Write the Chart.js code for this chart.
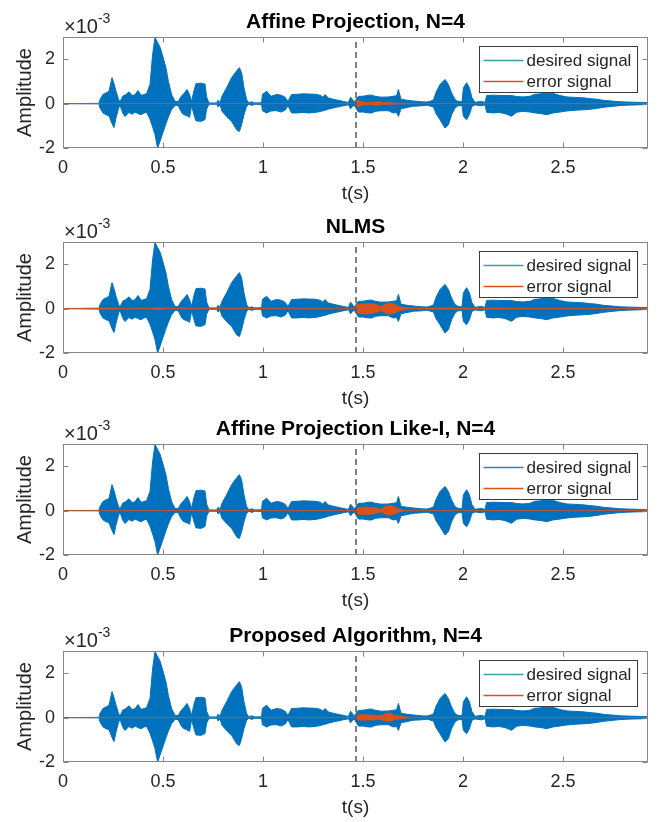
<!DOCTYPE html>
<html><head><meta charset="utf-8">
<script src="https://cdn.jsdelivr.net/npm/chart.js@4.4.0/dist/chart.umd.min.js"></script>
<style>
html,body{margin:0;padding:0;background:#fff;}
#wrap{position:relative;width:659px;height:822px;overflow:hidden;}
canvas{position:absolute;left:0;}
</style></head><body>
<div id="wrap">
<canvas id="c0" width="659" height="205" style="top:0px"></canvas>
<canvas id="c1" width="659" height="205" style="top:205px"></canvas>
<canvas id="c2" width="659" height="205" style="top:407px"></canvas>
<canvas id="c3" width="659" height="205" style="top:614px"></canvas>
</div>
<script>
// time (s) of envelope points of the desired signal
const tDesired = [0,0.18,0.185,0.2,0.215,0.23,0.245,0.255,0.265,0.278,
 0.285,0.3,0.31,0.33,0.345,0.36,0.375,0.39,0.405,0.418,
 0.435,0.448,0.46,0.473,0.485,0.5,0.515,0.527,0.543,0.56,
 0.575,0.593,0.605,0.62,0.633,0.643,0.655,0.665,0.69,0.71,
 0.718,0.73,0.77,0.775,0.785,0.795,0.818,0.843,0.868,0.882,
 0.893,0.905,0.918,0.93,0.943,0.96,0.993,0.997,1.018,1.04,
 1.068,1.09,1.11,1.125,1.143,1.17,1.2,1.23,1.26,1.285,
 1.3,1.31,1.327,1.35,1.38,1.41,1.427,1.438,1.447,1.455,
 1.465,1.477,1.5,1.527,1.545,1.56,1.59,1.627,1.65,1.668,
 1.677,1.69,1.72,1.75,1.793,1.82,1.852,1.865,1.885,1.91,
 1.927,1.943,1.96,1.975,1.995,2.002,2.018,2.032,2.045,2.06,
 2.093,2.11,2.118,2.15,2.18,2.21,2.243,2.268,2.3,2.335,
 2.36,2.39,2.418,2.45,2.485,2.52,2.56,2.6,2.64,2.668,
 2.7,2.74,2.785,2.82,2.86,2.9,2.925];
// desired signal envelope (x10^-3)
const desiredUpper = [0,0.01,0.18,0.41,0.48,0.55,1.17,0.9,0.56,0.18,
 0.08,0.35,0.38,0.53,0.36,0.4,0.59,0.38,0.4,0.45,
 0.86,2.2,2.98,2.75,2.55,2.1,1.6,1.0,0.41,0.1,
 0.08,0.35,0.45,0.64,0.4,0.1,0.6,0.9,0.92,0.88,
 0.3,0.03,0.03,0.15,0.05,0.33,0.71,1.17,1.47,1.62,
 1.39,0.71,0.18,0.03,0.08,0.03,0.04,0.41,0.56,0.33,
 0.41,0.38,0.29,0.1,0.41,0.42,0.44,0.43,0.42,0.38,
 0.29,0.41,0.25,0.2,0.14,0.08,0.05,0.29,0.2,0.05,
 0.18,0.33,0.33,0.38,0.38,0.33,0.29,0.3,0.33,0.35,
 0.64,0.2,0.15,0.12,0.08,0.07,0.15,0.5,0.86,1.09,
 0.86,0.48,0.18,0.1,0.08,0.71,0.94,0.71,0.26,0.06,
 0.1,0.05,0.36,0.38,0.37,0.36,0.36,0.32,0.3,0.33,
 0.42,0.44,0.48,0.46,0.36,0.3,0.28,0.26,0.22,0.2,
 0.15,0.12,0.08,0.07,0.06,0.05,0.04];
const desiredLower = [0,-0.01,-0.2,-0.42,-0.5,-0.55,-0.9,-1.08,-0.65,-0.2,
 -0.08,-0.45,-0.58,-0.4,-0.48,-0.38,-0.45,-0.5,-0.42,-0.4,
 -0.7,-1.05,-1.4,-2.0,-1.7,-1.3,-0.9,-0.6,-0.27,-0.08,
 -0.08,-0.4,-0.5,-0.55,-0.62,-0.1,-0.5,-0.78,-0.8,-0.72,
 -0.25,-0.03,-0.03,-0.15,-0.05,-0.35,-0.58,-0.8,-1.18,-1.26,
 -0.95,-0.5,-0.12,-0.03,-0.08,-0.03,-0.04,-0.32,-0.42,-0.33,
 -0.32,-0.38,-0.3,-0.1,-0.42,-0.42,-0.4,-0.42,-0.4,-0.36,
 -0.32,-0.3,-0.25,-0.2,-0.14,-0.08,-0.05,-0.23,-0.15,-0.05,
 -0.2,-0.38,-0.38,-0.42,-0.42,-0.35,-0.32,-0.32,-0.42,-0.4,
 -0.58,-0.23,-0.18,-0.12,-0.1,-0.07,-0.15,-0.45,-0.73,-1.1,
 -0.95,-0.5,-0.2,-0.1,-0.08,-0.58,-0.73,-0.5,-0.12,-0.06,
 -0.1,-0.05,-0.39,-0.42,-0.4,-0.45,-0.57,-0.39,-0.35,-0.38,
 -0.42,-0.45,-0.5,-0.42,-0.38,-0.33,-0.3,-0.28,-0.25,-0.22,
 -0.17,-0.13,-0.09,-0.07,-0.06,-0.05,-0.04];

// time (s) of envelope points of the error signals
const tError = [0,0.2,0.25,0.3,0.44,0.46,0.48,0.5,0.52,1.46,
 1.468,1.475,1.49,1.51,1.53,1.55,1.57,1.585,1.6,1.615,
 1.63,1.645,1.66,1.675,1.69,1.705,1.72,1.74,1.9,2.0,
 2.925];
const errUpperAP = [0,0,0,0,0,0,0,0,0,0,
 0.14,0.15,0.1,0.06,0.06,0.07,0.08,0.07,0.05,0.05,
 0.04,0.04,0.03,0.03,0.02,0.02,0.015,0,0,0,
 0];
const errLowerAP = [0,0,0,0,0,0,0,0,0,0,
 -0.13,-0.15,-0.1,-0.06,-0.05,-0.06,-0.07,-0.06,-0.05,-0.04,
 -0.04,-0.03,-0.03,-0.02,-0.02,-0.02,-0.015,0,0,0,
 0];
const errUpperNLMS = [0.005,0.03,0.03,0.005,0.02,0.04,0.04,0.03,0.02,0.01,
 0.18,0.2,0.21,0.23,0.24,0.22,0.18,0.1,0.15,0.22,
 0.25,0.24,0.2,0.12,0.08,0.06,0.04,0.02,0.03,0.025,
 0];
const errLowerNLMS = [-0.005,-0.03,-0.03,-0.005,-0.02,-0.04,-0.04,-0.03,-0.02,-0.01,
 -0.18,-0.2,-0.24,-0.25,-0.24,-0.22,-0.17,-0.1,-0.14,-0.22,
 -0.26,-0.24,-0.2,-0.12,-0.08,-0.06,-0.04,-0.02,-0.03,-0.025,
 0];
const errUpperAPL = [0,0,0,0,0,0,0,0,0,0,
 0.1,0.14,0.15,0.16,0.16,0.15,0.12,0.06,0.12,0.22,
 0.24,0.22,0.16,0.08,0.04,0.02,0.01,0,0,0,
 0];
const errLowerAPL = [0,0,0,0,0,0,0,0,0,0,
 -0.1,-0.16,-0.18,-0.18,-0.17,-0.16,-0.12,-0.06,-0.1,-0.19,
 -0.21,-0.2,-0.15,-0.08,-0.04,-0.02,-0.01,0,0,0,
 0];
const errUpperProp = [0,0,0,0,0,0,0,0,0,0,
 0.08,0.12,0.14,0.13,0.12,0.13,0.1,0.09,0.13,0.2,
 0.21,0.18,0.1,0.08,0.06,0.05,0.03,0.01,0,0,
 0];
const errLowerProp = [0,0,0,0,0,0,0,0,0,0,
 -0.08,-0.1,-0.12,-0.12,-0.11,-0.12,-0.09,-0.08,-0.12,-0.17,
 -0.17,-0.15,-0.09,-0.07,-0.05,-0.04,-0.02,-0.01,0,0,
 0];

const panelTitles = ["Affine Projection, N=4", "NLMS", "Affine Projection Like-I, N=4", "Proposed Algorithm, N=4"];
const errUppers = [errUpperAP, errUpperNLMS, errUpperAPL, errUpperProp];
const errLowers = [errLowerAP, errLowerNLMS, errLowerAPL, errLowerProp];
const legendLabels = ["desired signal", "error signal"];
const xTickValues = [0, 0.5, 1, 1.5, 2, 2.5];
const yTickValues = [-2, 0, 2];
const xRange = [0, 2.925];
const yRange = [-2, 3];
const markerTime = 1.465;

const FONT = '"Liberation Sans", Arial, Helvetica, sans-serif';
const BLUE = '#0072BD', ORANGE = '#D95319', TXT = '#262626';
const legendLineColors = ['#3d9fa3', '#3d9fa3', '#2f7fc1', '#3d9fa3'];

const pts = (ts, vs) => ts.map((t, i) => ({x: t, y: vs[i]}));

const framePlugin = {
  id: 'frame',
  afterDatasetsDraw(chart) {
    const {ctx, chartArea: a, scales: {x, y}} = chart;
    ctx.save();
    ctx.strokeStyle = '#858585';
    ctx.lineWidth = 1;
    const L = Math.round(a.left) + 0.5, R = Math.round(a.right) - 0.5;
    const T = Math.round(a.top) + 0.5, B = Math.round(a.bottom) - 0.5;
    ctx.strokeRect(L, T, R - L, B - T);
    const k = 5;
    ctx.beginPath();
    x.ticks.forEach(t => {
      const px = Math.round(x.getPixelForValue(t.value)) + 0.5;
      ctx.moveTo(px, B); ctx.lineTo(px, B - k);
      ctx.moveTo(px, T); ctx.lineTo(px, T + k);
    });
    y.ticks.forEach(t => {
      const py = Math.round(y.getPixelForValue(t.value)) + 0.5;
      ctx.moveTo(L, py); ctx.lineTo(L + k, py);
      ctx.moveTo(R, py); ctx.lineTo(R - k, py);
    });
    ctx.stroke();
    ctx.restore();
  }
};

const overlayPlugin = {
  id: 'overlay',
  afterDraw(chart, args, opts) {
    const {ctx, chartArea: a} = chart;
    ctx.save();
    // exponent label
    ctx.fillStyle = TXT;
    ctx.textBaseline = 'alphabetic';
    ctx.textAlign = 'left';
    ctx.font = '20px ' + FONT;
    const base = '\u00d710';
    ctx.fillText(base, a.left + 1, a.top - 4);
    const w = ctx.measureText(base).width;
    ctx.font = '14px ' + FONT;
    ctx.fillText('-3', a.left + 1 + w, a.top - 14);
    // legend
    const bx = Math.round(a.right - 169) + 0.5, by = Math.round(a.top + 9) + 0.5;
    const bw = 158, bh = 46;
    ctx.fillStyle = '#fff';
    ctx.fillRect(bx, by, bw, bh);
    ctx.strokeStyle = '#3a3a3a';
    ctx.lineWidth = 1;
    ctx.strokeRect(bx, by, bw, bh);
    const rows = [{c: opts.desiredColor, y: by + 14}, {c: ORANGE, y: by + 35}];
    rows.forEach((r, i) => {
      ctx.strokeStyle = r.c;
      ctx.lineWidth = 1.3;
      ctx.beginPath();
      ctx.moveTo(bx + 4, r.y); ctx.lineTo(bx + 44, r.y);
      ctx.stroke();
      ctx.fillStyle = TXT;
      ctx.font = '17px ' + FONT;
      ctx.textBaseline = 'middle';
      ctx.fillText(legendLabels[i], bx + 47, r.y + 1);
    });
    ctx.restore();
  }
};

for (let p = 0; p < 4; p++) {
  const datasets = [
    {data: [{x: markerTime, y: yRange[0]}, {x: markerTime, y: yRange[1]}],
     borderColor: '#555555', borderWidth: 1.5, borderDash: [6, 4], pointRadius: 0, fill: false},
    {data: pts(tError, errUppers[p]), borderColor: 'rgba(217,83,25,0.75)', backgroundColor: ORANGE,
     borderWidth: 0.8, pointRadius: 0, fill: '+1'},
    {data: pts(tError, errLowers[p]), borderColor: 'rgba(217,83,25,0.75)', borderWidth: 0.8, pointRadius: 0, fill: false},
    {data: pts(tDesired, desiredUpper), borderColor: BLUE, backgroundColor: BLUE,
     borderWidth: 1, pointRadius: 0, fill: '+1'},
    {data: pts(tDesired, desiredLower), borderColor: BLUE, borderWidth: 1, pointRadius: 0, fill: false}
  ];
  new Chart(document.getElementById('c' + p), {
    type: 'line',
    data: {datasets},
    options: {
      responsive: false,
      animation: false,
      events: [],
      devicePixelRatio: 1,
      layout: {padding: {left: 0, right: 11, top: 0, bottom: 0}},
      elements: {line: {tension: 0}},
      plugins: {
        legend: {display: false},
        tooltip: {enabled: false},
        title: {display: true, text: panelTitles[p], fullSize: false, color: '#000',
          font: {family: FONT, size: 21, weight: 'bold'}, padding: {top: 9.4, bottom: 2.4}},
        overlay: {desiredColor: legendLineColors[p]}
      },
      scales: {
        x: {
          type: 'linear', min: xRange[0], max: xRange[1],
          afterBuildTicks: s => { s.ticks = xTickValues.map(v => ({value: v})); },
          afterFit: s => { s.height = 57; },
          grid: {display: false, drawTicks: false},
          border: {display: false},
          ticks: {color: TXT, padding: 9, font: {family: FONT, size: 18},
            callback: v => String(v)},
          title: {display: true, text: 't(s)', color: TXT, font: {family: FONT, size: 19},
            padding: {top: 0, bottom: 0}}
        },
        y: {
          type: 'linear', min: yRange[0], max: yRange[1],
          afterBuildTicks: s => { s.ticks = yTickValues.map(v => ({value: v})); },
          afterFit: s => { s.width = 63; },
          grid: {display: false, drawTicks: false},
          border: {display: false},
          ticks: {color: TXT, padding: 8, font: {family: FONT, size: 18},
            callback: v => String(v)},
          title: {display: true, text: 'Amplitude', color: TXT, font: {family: FONT, size: 20},
            padding: {top: 13, bottom: 0}}
        }
      }
    },
    plugins: [framePlugin, overlayPlugin]
  });
}
</script>
</body></html>
